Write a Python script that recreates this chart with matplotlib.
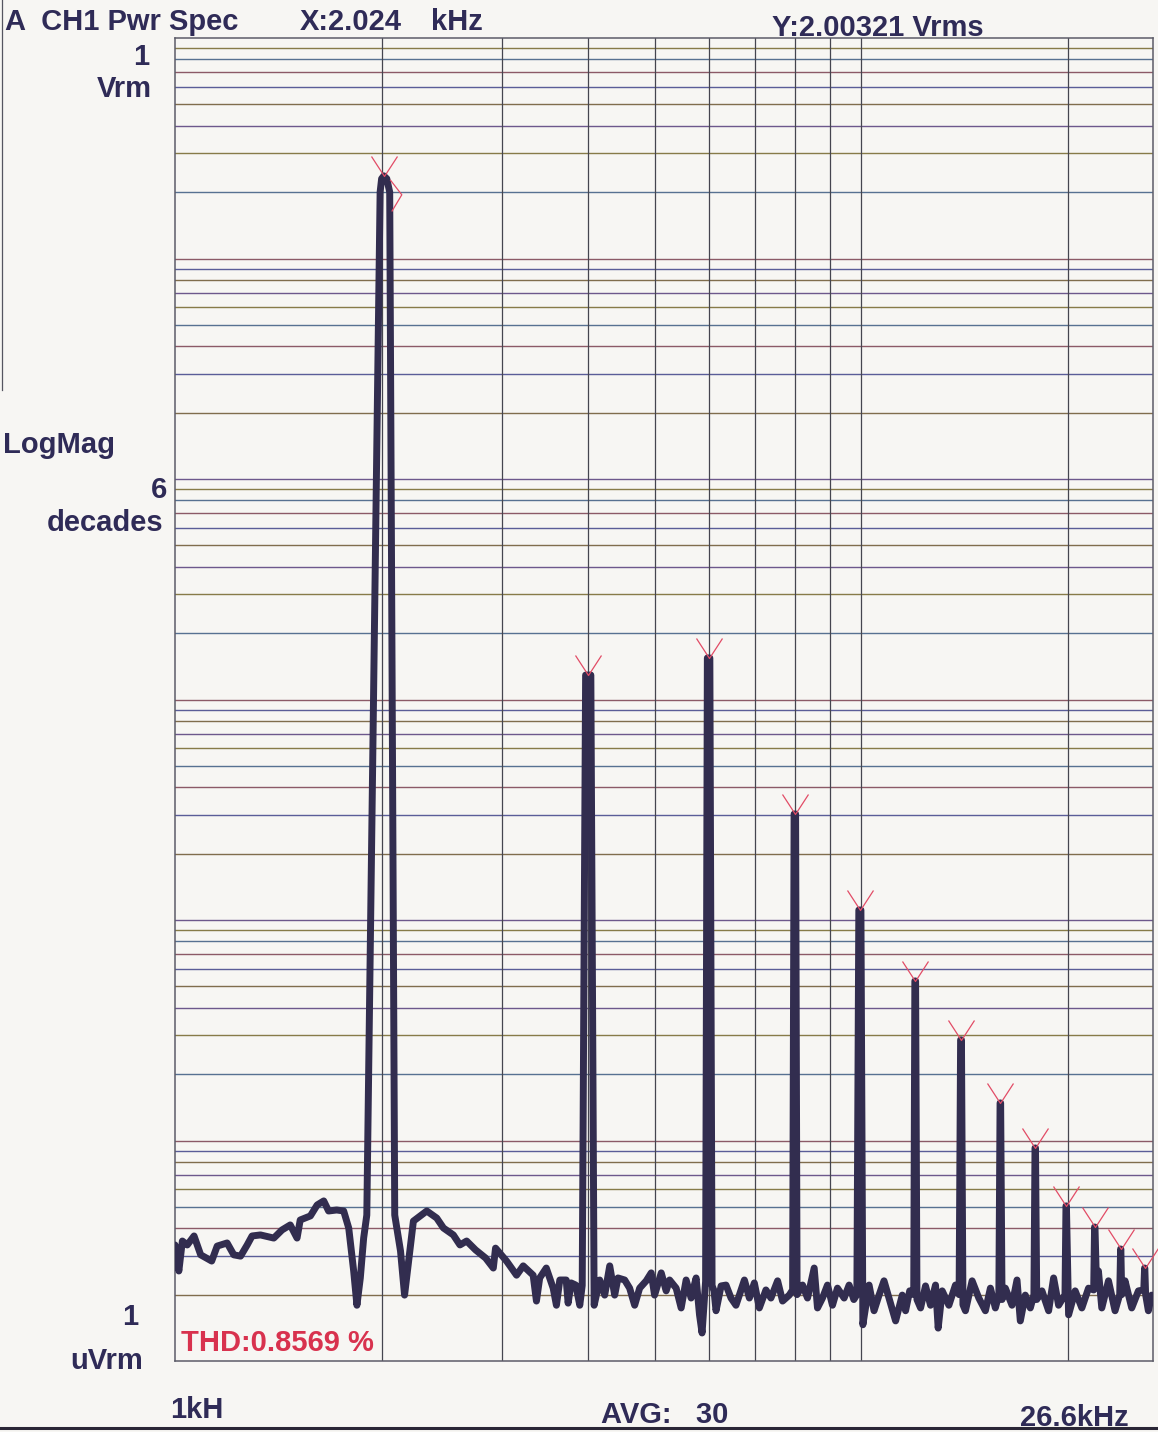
import numpy as np
import matplotlib
matplotlib.use("Agg")
import matplotlib.pyplot as plt
from matplotlib.path import Path
from matplotlib.lines import Line2D

# ---------------- data ----------------
# trace segment 1: 1 kHz .. ~4.1 kHz (incl. fundamental and 2nd harmonic)
seg1_freq_khz = [1.000, 1.013, 1.025, 1.042, 1.066, 1.090, 1.131, 1.152, 1.191, 1.218,
                 1.246, 1.274, 1.295, 1.332, 1.393, 1.432, 1.472, 1.506, 1.522, 1.575,
                 1.611, 1.647, 1.674, 1.720, 1.761, 1.791, 1.821, 1.841, 1.862, 1.883,
                 1.903, 1.990, 2.000, 2.015, 2.035, 2.055, 2.090, 2.131, 2.160, 2.225,
                 2.327, 2.406, 2.461, 2.544, 2.601, 2.660, 2.741, 2.835, 2.909, 2.931,
                 3.041, 3.145, 3.216, 3.325, 3.362, 3.399, 3.475, 3.556, 3.595, 3.636,
                 3.715, 3.739, 3.777, 3.836, 3.888, 3.920, 3.965, 4.035, 4.080]
seg1_mag_uv = [3.36, 2.56, 3.50, 3.36, 3.69, 3.03, 2.84, 3.32, 3.43, 3.03,
               2.99, 3.36, 3.69, 3.73, 3.61, 3.93, 4.14, 3.61, 4.36, 4.55,
               5.10, 5.32, 4.79, 4.84, 4.79, 4.01, 2.56, 1.79, 2.38, 3.61,
               4.59, 2.0e5, 2.3e5, 2.37e5, 2.3e5, 2.0e5, 4.59, 3.15, 1.99, 4.31,
               4.79, 4.45, 4.01, 3.73, 3.36, 3.50, 3.19, 2.93, 2.64, 3.25,
               2.84, 2.45, 2.70, 2.45, 1.87, 2.38, 2.64, 2.14, 1.79, 2.33,
               2.33, 1.83, 2.26, 2.21, 1.79, 2.20, 1291, 1291, 1.79]

# trace segment 2: ~4.1 kHz .. ~12 kHz (3rd .. 6th harmonic)
seg2_freq_khz = [4.157, 4.227, 4.299, 4.371, 4.420, 4.520, 4.596, 4.674, 4.753,
                 4.859, 4.941, 4.997, 5.110, 5.195, 5.255, 5.372, 5.463, 5.555, 5.649,
                 5.744, 5.810, 5.860, 5.930, 5.965, 6.015, 6.060, 6.100, 6.141, 6.246,
                 6.350, 6.458, 6.566, 6.754, 6.868, 6.983, 7.101, 7.260, 7.383, 7.550,
                 7.677, 7.851, 7.940, 7.980, 8.020, 8.060, 8.209, 8.347, 8.536, 8.631,
                 8.777, 8.925, 9.076, 9.229, 9.438, 9.597, 9.750, 9.850, 9.915, 9.985,
                 10.05, 10.262, 10.434, 10.611, 10.789, 10.972, 11.217, 11.471, 11.598, 11.76,
                 11.92, 11.965, 11.995, 12.05]
seg2_mag_uv = [2.33, 1.99, 2.70, 1.99, 2.38, 2.33, 2.14, 1.79, 2.14,
               2.31, 2.51, 1.99, 2.51, 2.08, 2.33, 2.14, 1.74, 2.33, 1.93,
               2.38, 1.62, 1.34, 2.30, 1543, 1543, 2.20, 2.08, 1.69, 2.19,
               2.21, 1.93, 1.79, 2.33, 1.93, 2.26, 1.74, 2.10, 1.93, 2.31,
               1.87, 1.99, 2.10, 302.5, 302.5, 2.00, 2.21, 1.93, 2.64, 1.74,
               1.93, 2.21, 1.79, 2.14, 1.93, 2.21, 1.90, 2.00, 111, 111,
               1.46, 2.21, 1.69, 1.99, 2.31, 1.93, 1.52, 1.99, 1.69, 2.08,
               2.00, 52.9, 52.9, 1.90]

# trace segment 3: ~12 kHz .. 26.6 kHz (7th .. 13th harmonic)
seg3_freq_khz = [12.197, 12.401, 12.611, 12.824, 12.939, 13.114, 13.412, 13.711, 13.88, 13.95,
                 13.99, 14.06, 14.178, 14.499, 14.828, 15.159, 15.417, 15.675, 15.86, 15.925,
                 15.955, 16.03, 16.208, 16.576, 16.856, 17.044, 17.330, 17.625, 17.84, 17.905,
                 17.935, 18.01, 18.326, 18.742, 19.058, 19.380, 19.80, 19.865, 19.895, 20.04,
                 20.487, 20.951, 21.427, 21.80, 21.865, 21.895, 22.00, 22.15, 22.401, 22.910,
                 23.421, 23.79, 23.86, 23.88, 23.95, 24.218, 24.767, 25.329, 25.79, 25.86,
                 25.88, 25.95, 26.19, 26.48, 26.60]
seg3_mag_uv = [1.74, 2.19, 1.79, 2.21, 1.41, 2.08, 1.79, 2.21, 2.00, 28.6,
               28.6, 1.80, 1.69, 2.31, 1.93, 1.69, 2.14, 1.74, 2.00, 14.8,
               14.8, 1.90, 2.14, 1.79, 2.33, 1.52, 1.99, 1.74, 2.00, 9.25,
               9.25, 1.90, 2.08, 1.69, 2.38, 1.79, 2.00, 5.05, 5.05, 1.62,
               2.08, 1.74, 2.14, 2.10, 4.05, 4.05, 2.30, 2.56, 1.74, 2.31,
               1.69, 2.00, 3.22, 3.22, 2.00, 2.31, 1.74, 2.08, 2.10, 2.64,
               2.64, 2.00, 1.69, 1.99, 1.90]

# peak markers (harmonics n = 1..13)
marker_freq_khz = [2.015, 4.0, 5.99, 8.0, 9.95, 11.98, 13.97, 15.94, 17.92, 19.88, 21.88, 23.87, 25.87]
marker_peak_uv = [2.37e5, 1291, 1543, 302.5, 111, 52.9, 28.6, 14.8, 9.25, 5.05, 4.05, 3.22, 2.64]

vgrid_khz = [2, 3, 4, 5, 6, 7, 8, 9, 10, 20]

# ---------------- figure ----------------
W, H = 1158, 1432
PAPER = '#f7f6f3'
INK = '#2f2b57'
TRACE = '#322d4f'
RED = '#e24c66'

fig = plt.figure(figsize=(W / 100, H / 100), dpi=100)
fig.patch.set_facecolor(PAPER)

ax = fig.add_axes([175 / W, 1 - 1361 / H, (1153 - 175) / W, (1361 - 38) / H])
ax.set_facecolor(PAPER)
ax.set_xscale('log')
ax.set_yscale('log')
ax.set_xlim(1.0, 26.6)
ax.set_ylim(1.0, 1.0e6)
ax.set_xticks([])
ax.set_yticks([])
ax.set_xticks([], minor=True)
ax.set_yticks([], minor=True)
for s in ax.spines.values():
    s.set_color('#5c5c68')
    s.set_linewidth(1.1)

# horizontal log grid (colour fringed like the scan)
hcols = ['#6b5530', '#3e4288', '#7a3f4f', '#3b5a80', '#74652a', '#553c7a']
i = 0
for k in range(6):
    for m in range(1, 10):
        v = m * 10 ** k
        if v <= 1 or v >= 1e6:
            continue
        ax.axhline(v, color=hcols[i % len(hcols)], lw=1.0, alpha=0.85, zorder=1)
        i += 1
for f in vgrid_khz:
    ax.axvline(f, color='#45454f', lw=0.9, zorder=1)

freq = np.array(seg1_freq_khz + seg2_freq_khz + seg3_freq_khz)
mag = np.array(seg1_mag_uv + seg2_mag_uv + seg3_mag_uv)
ax.plot(freq, mag, color=TRACE, lw=5.0, solid_joinstyle='round',
        solid_capstyle='round', zorder=3, clip_on=True)

# red peak markers
v_path = Path([(-13, 20), (0, 0), (13, 20)], [Path.MOVETO, Path.LINETO, Path.LINETO])
fund_path = Path([(-13, 20), (0, 0), (13, 20), (5.7, -3.3), (17.3, -18.3), (7.3, -35)],
                 [Path.MOVETO, Path.LINETO, Path.LINETO, Path.MOVETO, Path.LINETO, Path.LINETO])
ax.plot(marker_freq_khz[:1], marker_peak_uv[:1], linestyle='none', marker=fund_path,
        markersize=2 * 35 * 0.72, markerfacecolor='none', markeredgecolor=RED,
        markeredgewidth=0.9, zorder=4, clip_on=False)
ax.plot(marker_freq_khz[1:], marker_peak_uv[1:], linestyle='none', marker=v_path,
        markersize=2 * 20 * 0.72, markerfacecolor='none', markeredgecolor=RED,
        markeredgewidth=0.9, zorder=4, clip_on=False)

# ---------------- texts ----------------
def ftext(x, y, s, ha='left', color=INK, size=21):
    fig.text(x / W, 1 - y / H, s, ha=ha, va='baseline', fontsize=size,
             fontweight='bold', family='Liberation Sans', color=color, zorder=5)

ftext(5, 30, 'A  CH1 Pwr Spec')
ftext(300, 30, 'X:2.024')
ftext(431, 30, 'kHz')
ftext(772, 36, 'Y:2.00321 Vrms')
ftext(149, 65, '1', ha='right')
ftext(152, 97, 'Vrm', ha='right')
ftext(3, 453, 'LogMag')
ftext(167, 498, '6', ha='right')
ftext(163, 531, 'decades', ha='right')
ftext(138, 1325, '1', ha='right')
ftext(143, 1369, 'uVrm', ha='right')
ftext(181, 1351, 'THD:0.8569 %', color='#d8324e')
ftext(170, 1418, '1kH')
ftext(601, 1423, 'AVG:   30')
ftext(1020, 1426, '26.6kHz')

fig.add_artist(Line2D([0, 1], [1 - 1428 / H] * 2, transform=fig.transFigure,
                      color='#2a2636', lw=2.2))
fig.add_artist(Line2D([2 / W, 2 / W], [1 - 0 / H, 1 - 390 / H], transform=fig.transFigure,
                      color='#555560', lw=0.9))

fig.savefig('out.png', dpi=100, facecolor=PAPER)
